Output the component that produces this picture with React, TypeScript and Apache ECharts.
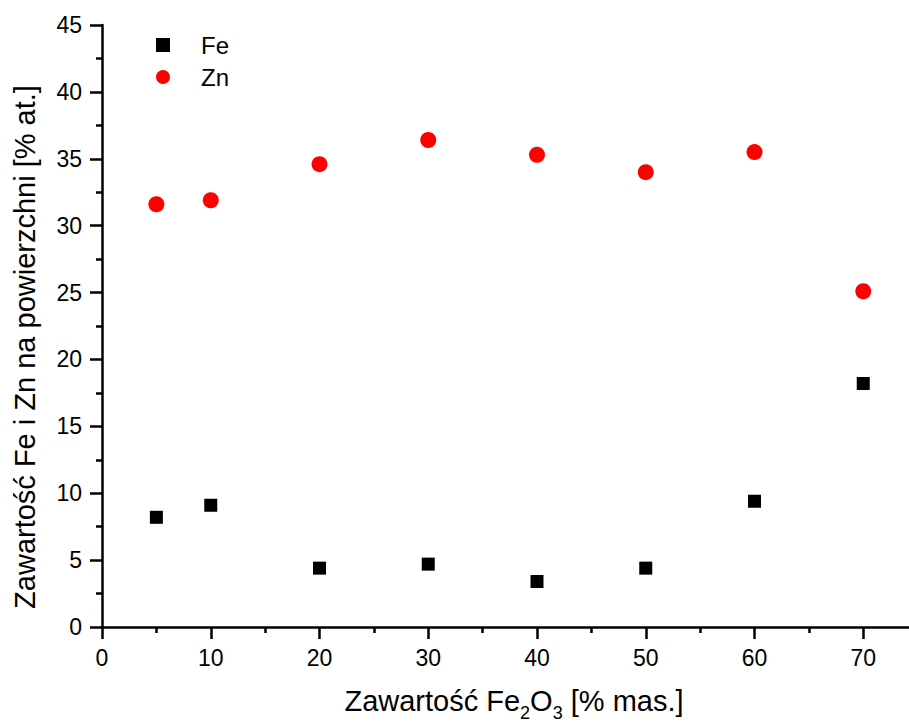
import React, { useEffect, useRef } from "react";
import * as echarts from "echarts";

// Fe2O3 content of the sample [% mas.]
const fe2o3Content = [5, 10, 20, 30, 40, 50, 60, 70];
// Surface content of Fe and Zn [% at.]
const feSurface = [8.2, 9.1, 4.4, 4.7, 3.4, 4.4, 9.4, 18.2];
const znSurface = [31.6, 31.9, 34.6, 36.4, 35.3, 34.0, 35.5, 25.1];

const seriesNames = ["Fe", "Zn"];
const xTitle = "Zawartość Fe{sub|2}O{sub|3} [% mas.]";
const yTitle = "Zawartość Fe i Zn na powierzchni [% at.]";

const FONT = "'Liberation Sans', Arial, Helvetica, sans-serif";

// The x axis runs on past the visible right edge; the canvas is wider than the frame.
const VIEW_W = 909;
const VIEW_H = 725;
const CHART_W = 972;

export default function App() {
  const ref = useRef<HTMLDivElement>(null);

  useEffect(() => {
    if (!ref.current) return;
    const chart = echarts.init(ref.current, undefined, { renderer: "svg" });

    const axisLine = { show: true, lineStyle: { color: "#000", width: 2.5 } };
    const axisTick = { show: true, inside: false, length: 12, lineStyle: { color: "#000", width: 2.5 } };
    const minorTick = { show: true, splitNumber: 2, length: 6, lineStyle: { color: "#000", width: 2.5 } };

    chart.setOption({
      animation: false,
      backgroundColor: "#fff",
      textStyle: { fontFamily: FONT },
      grid: { left: 102, top: 25, bottom: 98, right: 0, containLabel: false },
      xAxis: {
        type: "value",
        min: 0,
        max: 80,
        interval: 10,
        axisLine,
        axisTick,
        minorTick,
        splitLine: { show: false },
        axisLabel: { color: "#000", fontSize: 23, fontFamily: FONT, margin: 19, showMaxLabel: false },
      },
      yAxis: {
        type: "value",
        min: 0,
        max: 45,
        interval: 5,
        axisLine,
        axisTick,
        minorTick,
        splitLine: { show: false },
        axisLabel: { color: "#000", fontSize: 23, fontFamily: FONT, margin: 20 },
      },
      legend: {
        orient: "vertical",
        left: 156,
        top: 33,
        padding: 0,
        itemWidth: 14,
        itemHeight: 14,
        itemGap: 8,
        data: [
          { name: seriesNames[0], icon: "rect" },
          { name: seriesNames[1], icon: "circle" },
        ],
        textStyle: { color: "#000", fontSize: 24, lineHeight: 24, fontFamily: FONT, padding: [0, 0, 0, 26] },
      },
      series: [
        {
          name: seriesNames[0],
          type: "scatter",
          symbol: "rect",
          symbolSize: 13,
          itemStyle: { color: "#000", opacity: 1 },
          data: fe2o3Content.map((x, i) => [x, feSurface[i]]),
        },
        {
          name: seriesNames[1],
          type: "scatter",
          symbol: "circle",
          symbolSize: 16,
          itemStyle: { color: "#ff0000", opacity: 1 },
          data: fe2o3Content.map((x, i) => [x, znSurface[i]]),
        },
      ],
      graphic: [
        {
          type: "text",
          x: 514,
          y: 679,
          style: {
            text: xTitle,
            fill: "#000",
            fontSize: 29,
            fontFamily: FONT,
            lineHeight: 43,
            align: "center",
            verticalAlign: "top",
            rich: {
              sub: { fontSize: 18, fontFamily: FONT, lineHeight: 18, verticalAlign: "bottom", fill: "#000" },
            },
          },
        },
        {
          type: "text",
          x: 25,
          y: 347,
          rotation: Math.PI / 2,
          style: {
            text: yTitle,
            fill: "#000",
            fontSize: 29,
            fontFamily: FONT,
            align: "center",
            verticalAlign: "middle",
          },
        },
      ],
    });

    return () => chart.dispose();
  }, []);

  return (
    <div
      style={{ position: "absolute", left: 0, top: 0, width: VIEW_W, height: VIEW_H, overflow: "hidden", background: "#fff" }}
    >
      <div ref={ref} style={{ width: CHART_W, height: VIEW_H }} />
    </div>
  );
}
